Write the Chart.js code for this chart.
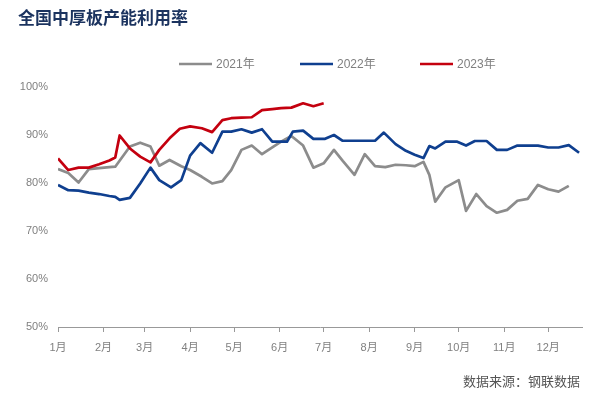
<!DOCTYPE html>
<html>
<head>
<meta charset="utf-8">
<script src="https://cdn.jsdelivr.net/npm/chart.js@4.4.1/dist/chart.umd.min.js"></script>
<style>
  html, body { margin: 0; padding: 0; background: #fff; }
  #wrap { width: 601px; height: 397px; }
</style>
</head>
<body>
<div id="wrap"><canvas id="chart" width="601" height="397"></canvas></div>
<script>
// 全国中厚板产能利用率 - weekly data, x = day of year
const titleText = '全国中厚板产能利用率';
const sourceText = '数据来源：钢联数据';
const seriesNames = ['2021年', '2022年', '2023年'];
const seriesColors = ['#8c8c8c', '#0f3f8f', '#c4000f'];

const monthDays = [0, 31, 59, 90, 120, 151, 181, 212, 243, 273, 304, 334];
const monthLabels = ['1月', '2月', '3月', '4月', '5月', '6月', '7月', '8月', '9月', '10月', '11月', '12月'];
const yTicks = [50, 60, 70, 80, 90, 100];

const days2021 = [0, 7, 14, 21, 28, 35, 39, 49, 56, 63, 69, 76, 84, 90, 98, 105, 112, 118, 125, 132, 139, 146, 152, 159, 167, 174, 181, 188, 194, 202, 209, 216, 223, 230, 237, 243, 249, 253, 257, 264, 273, 278, 285, 292, 299, 306, 313, 320, 327, 334, 341, 348];
const values2021 = [82.9, 82.1, 80.1, 82.9, 83.1, 83.3, 83.4, 87.6, 88.4, 87.6, 83.6, 84.8, 83.5, 82.7, 81.3, 79.9, 80.4, 82.7, 86.9, 87.8, 86.0, 87.4, 88.6, 89.8, 87.8, 83.2, 84.1, 86.9, 84.6, 81.7, 86.0, 83.5, 83.3, 83.8, 83.7, 83.5, 84.4, 81.7, 76.1, 79.1, 80.6, 74.2, 77.7, 75.2, 73.8, 74.4, 76.3, 76.7, 79.6, 78.7, 78.2, 79.4];

const days2022 = [0, 7, 14, 21, 28, 35, 39, 42, 49, 56, 63, 69, 77, 84, 90, 97, 105, 112, 118, 125, 132, 139, 146, 152, 156, 160, 167, 174, 182, 188, 194, 201, 208, 216, 222, 230, 237, 243, 249, 253, 257, 264, 272, 278, 284, 292, 299, 306, 313, 319, 327, 334, 341, 348, 355];
const values2022 = [79.6, 78.5, 78.4, 78.0, 77.7, 77.3, 77.1, 76.5, 76.9, 79.9, 83.2, 80.6, 79.1, 80.6, 85.7, 88.3, 86.3, 90.7, 90.7, 91.2, 90.5, 91.2, 88.6, 88.6, 88.6, 90.7, 90.9, 89.2, 89.2, 90.0, 88.8, 88.8, 88.8, 88.8, 90.5, 88.1, 86.7, 85.9, 85.2, 87.7, 87.2, 88.6, 88.6, 87.8, 88.75, 88.75, 86.9, 86.9, 87.8, 87.8, 87.8, 87.4, 87.4, 87.9, 86.3];

const days2023 = [0, 7, 14, 21, 28, 35, 39, 42, 49, 56, 63, 69, 76, 83, 90, 98, 105, 112, 118, 125, 132, 139, 146, 152, 159, 167, 174, 181];
const values2023 = [85.1, 82.7, 83.2, 83.2, 83.9, 84.7, 85.3, 89.9, 87.2, 85.5, 84.3, 86.9, 89.3, 91.3, 91.8, 91.4, 90.6, 93.1, 93.5, 93.6, 93.7, 95.2, 95.4, 95.6, 95.7, 96.6, 96.0, 96.6];

function toPoints(days, values) {
    return days.map((d, i) => ({ x: d, y: values[i] }));
}

function makeDataset(idx, days, values, order) {
    return {
        label: seriesNames[idx],
        data: toPoints(days, values),
        borderColor: seriesColors[idx],
        backgroundColor: seriesColors[idx],
        borderWidth: 2.7,
        borderJoinStyle: 'round',
        pointRadius: 0,
        tension: 0,
        order: order
    };
}

// --- title, legend, source drawn on top ---
const annotate = {
    id: 'annotate',
    afterDraw(chart) {
        const ctx = chart.ctx;
        ctx.save();
        ctx.textBaseline = 'middle';

        ctx.font = 'bold 17px "Noto Sans CJK SC"';
        ctx.fillStyle = '#1b335f';
        ctx.textAlign = 'left';
        ctx.fillText(titleText, 18, 18);

        const legendX = [179, 300, 420];
        const legendY = 64;
        ctx.font = '12px "Liberation Sans", "Noto Sans CJK SC"';
        seriesNames.forEach((name, i) => {
            ctx.strokeStyle = seriesColors[i];
            ctx.lineWidth = 2.7;
            ctx.beginPath();
            ctx.moveTo(legendX[i], legendY);
            ctx.lineTo(legendX[i] + 33, legendY);
            ctx.stroke();
            ctx.fillStyle = '#7f7f7f';
            ctx.fillText(name, legendX[i] + 37, legendY + 1);
        });

        ctx.font = '13px "Noto Sans CJK SC"';
        ctx.fillStyle = '#555555';
        ctx.textAlign = 'right';
        ctx.fillText(sourceText, 580, 381);
        ctx.restore();
    }
};

new Chart(document.getElementById('chart'), {
    type: 'line',
    data: {
        datasets: [
            makeDataset(0, days2021, values2021, 2),
            makeDataset(1, days2022, values2022, 1),
            makeDataset(2, days2023, values2023, 0)
        ]
    },
    options: {
        responsive: false,
        animation: false,
        layout: { padding: { top: 87, right: 19, bottom: 40, left: 0 } },
        plugins: {
            legend: { display: false },
            tooltip: { enabled: false },
            title: { display: false }
        },
        scales: {
            x: {
                type: 'linear',
                min: 0,
                max: 357,
                afterBuildTicks: s => { s.ticks = monthDays.map(v => ({ value: v })); },
                afterFit: s => { s.height = 30; },
                ticks: {
                    autoSkip: false,
                    maxRotation: 0,
                    padding: 9,
                    color: '#808080',
                    font: { size: 11, family: '"Liberation Sans", "Noto Sans CJK SC"' },
                    callback: (v, i) => monthLabels[i]
                },
                grid: { display: true, drawOnChartArea: false, drawTicks: true, tickLength: 5, color: '#999999' },
                border: { display: true, color: '#999999', width: 1 }
            },
            y: {
                min: 50,
                max: 100,
                afterBuildTicks: s => { s.ticks = yTicks.map(v => ({ value: v })); },
                afterFit: s => { s.width = 58; },
                ticks: {
                    padding: 10,
                    color: '#808080',
                    font: { size: 11, family: '"Liberation Sans", "Noto Sans CJK SC"' },
                    callback: v => v + '%'
                },
                grid: { display: false, drawTicks: false },
                border: { display: false }
            }
        }
    },
    plugins: [annotate]
});
</script>
</body>
</html>
